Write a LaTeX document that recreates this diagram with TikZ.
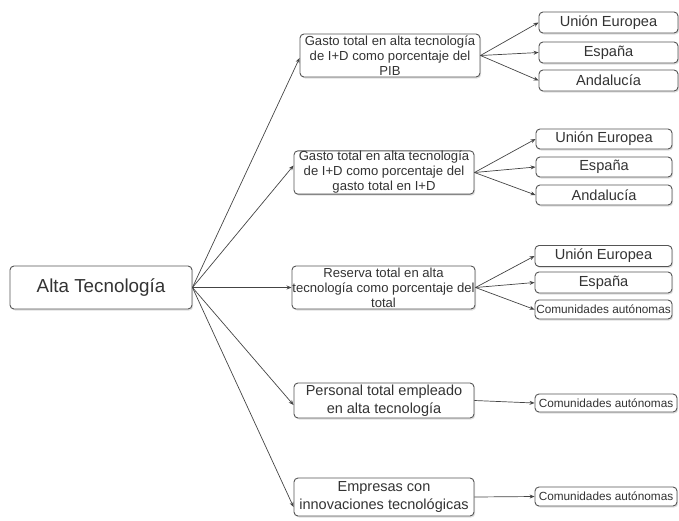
\documentclass[tikz,border=0pt]{standalone}
\usepackage{fontspec}
\setmainfont{Liberation Sans}
\usetikzlibrary{arrows.meta,shadows,calc}
\definecolor{boxline}{HTML}{555555}
\definecolor{txt}{HTML}{333333}
\definecolor{arr}{HTML}{444444}
\tikzset{
  box/.style={draw=boxline, line width=0.9pt, rounded corners=4pt, fill=white,
    text=txt, align=center, inner sep=0.5pt,
    drop shadow={shadow xshift=1.2pt, shadow yshift=-1.5pt, opacity=0.25}},
  rootbox/.style={box, minimum width=182pt, minimum height=43pt,
    font=\fontsize{18.8}{22}\selectfont},
  midbox/.style={box, minimum width=180pt, font=\fontsize{13.1}{15}\selectfont},
  bigmid/.style={box, minimum width=180pt, font=\fontsize{14.5}{18}\selectfont},
  leaf/.style={box, font=\fontsize{14.6}{17}\selectfont},
  smallleaf/.style={box, font=\fontsize{11.8}{14}\selectfont},
  conn/.style={draw=arr, line width=0.7pt, -{Stealth[length=5pt,width=4pt]}}
}
\begin{document}
\begin{tikzpicture}[x=1pt,y=-1pt]
\useasboundingbox (0,0) rectangle (679,520);
% root
\node[rootbox] (root) at (101,287.5) {Alta Tecnología};
% level 1
\node[midbox, minimum height=43pt] (b1) at (390,55.5) {Gasto total en alta tecnología\\de I+D como porcentaje del\\PIB};
\node[midbox, minimum height=41pt] (b2) at (384,172.5) {Gasto total en alta tecnología\\de I+D como porcentaje del\\gasto total en I+D};
\node[midbox, minimum width=181pt, minimum height=43pt] (b3) at (383.5,287.5) {Reserva total en alta\\tecnología como porcentaje del\\total};
\node[bigmid, minimum height=35pt] (b4) at (384,400.5) {Personal total empleado\\en alta tecnología};
\node[bigmid, minimum height=38pt] (b5) at (384,497) {Empresas con\\innovaciones tecnológicas};
% group 1
\node[leaf, minimum width=139pt, minimum height=21pt] (g1a) at (608.5,22.5) {Unión Europea};
\node[leaf, minimum width=139pt, minimum height=21pt] (g1b) at (608.5,52.5) {España};
\node[leaf, minimum width=139pt, minimum height=21pt] (g1c) at (608.5,80.5) {Andalucía};
% group 2
\node[leaf, minimum width=136pt, minimum height=20pt] (g2a) at (604,139) {Unión Europea};
\node[leaf, minimum width=136pt, minimum height=20pt] (g2b) at (604,167) {España};
\node[leaf, minimum width=136pt, minimum height=20pt] (g2c) at (604,195) {Andalucía};
% group 3
\node[leaf, minimum width=137pt, minimum height=21pt] (g3a) at (603.5,256) {Unión Europea};
\node[leaf, minimum width=137pt, minimum height=21pt] (g3b) at (603.5,282.5) {España};
\node[smallleaf, minimum width=137pt, minimum height=19pt] (g3c) at (603.5,309.5) {Comunidades autónomas};
% group 4, 5
\node[smallleaf, minimum width=142pt, minimum height=18pt] (g4) at (606,403) {Comunidades autónomas};
\node[smallleaf, minimum width=142pt, minimum height=19pt] (g5) at (606,496.5) {Comunidades autónomas};
% root connectors
\draw[conn] (root.east) -- ($(b1.west)+(0,2.5)$);
\draw[conn] (root.east) -- ($(b2.west)+(0,-7)$);
\draw[conn] (root.east) -- (b3.west);
\draw[conn] (root.east) -- ($(b4.west)+(0,4.5)$);
\draw[conn] (root.east) -- ($(b5.west)+(0,10)$);
% level 2 connectors
\foreach \s/\t in {b1/g1a,b1/g1b,b1/g1c,b2/g2a,b2/g2b,b2/g2c,b3/g3a,b3/g3b,b3/g3c,b4/g4,b5/g5}
  \draw[conn] (\s.east) -- (\t.west);
\end{tikzpicture}
\end{document}
